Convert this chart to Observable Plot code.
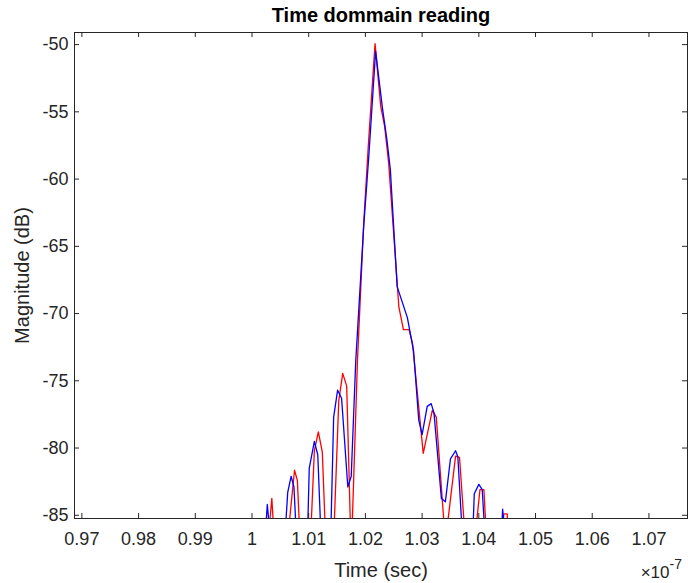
<!DOCTYPE html>
<html>
<head>
<meta charset="utf-8">
<script src="https://cdn.jsdelivr.net/npm/d3@7"></script>
<script src="https://cdn.jsdelivr.net/npm/@observablehq/plot@0.6"></script>
<style>
  html, body { margin: 0; padding: 0; background: #fff; }
  svg { display: block; }
</style>
</head>
<body>
<div id="chart"></div>
<script>
// Time values are in units of 1e-7 s (axis shows ×10^-7)
const titleText = "Time dommain reading";
const xLabel = "Time (sec)";
const yLabel = "Magnitude (dB)";

const blueTime = [1.0015, 1.0021, 1.0027, 1.0033, 1.0056, 1.0063, 1.0069, 1.0074, 1.0080, 1.0097,
  1.0101, 1.0110, 1.0116, 1.0123, 1.0138, 1.0144, 1.0151, 1.0158, 1.0169, 1.0175,
  1.0183, 1.0197, 1.0206, 1.0218, 1.0230, 1.0238, 1.0244, 1.0256, 1.0274, 1.0285,
  1.0294, 1.0300, 1.0309, 1.0316, 1.0321, 1.0334, 1.0341, 1.0350, 1.0359, 1.0363,
  1.0373, 1.0388, 1.0392, 1.0400, 1.0406, 1.0413, 1.0438, 1.0442, 1.0447, 1.0456];
const blueMag = [-92, -88, -84.2, -87, -88, -83.3, -82.1, -82.9, -88, -88,
  -81.5, -79.5, -80.5, -88, -88, -77.7, -75.7, -76.3, -82.9, -82.1,
  -73.5, -63.5, -58.3, -50.5, -54.7, -57.1, -59.3, -68.0, -70.3, -72.8,
  -77.9, -79.0, -76.9, -76.7, -77.4, -83.75, -84.0, -80.8, -80.2, -80.65,
  -88, -88, -83.4, -82.7, -83.1, -88, -88, -84.55, -87, -92];

const redTime = [1.0019, 1.0026, 1.0035, 1.0041, 1.0060, 1.0075, 1.0080, 1.0086, 1.0102, 1.0110,
  1.0117, 1.0124, 1.0131, 1.0143, 1.0153, 1.0160, 1.0167, 1.0175, 1.0186, 1.0197,
  1.0205, 1.0217, 1.0227, 1.0234, 1.0241, 1.0259, 1.0267, 1.0277, 1.0283, 1.0302,
  1.0318, 1.0325, 1.0341, 1.0359, 1.0366, 1.0378, 1.0390, 1.0402, 1.0409, 1.0415,
  1.0440, 1.0444, 1.0450, 1.0456];
const redMag = [-92, -88, -83.75, -88, -88, -81.65, -82.4, -88, -88, -80.2,
  -78.8, -80.3, -88, -88, -76.5, -74.45, -75.4, -88, -73.5, -63.3,
  -57.6, -49.93, -54.6, -56.1, -58.8, -69.5, -71.2, -71.2, -72.2, -80.4,
  -77.2, -77.7, -87, -80.6, -80.7, -88, -88, -83.1, -83.1, -88,
  -88, -84.9, -84.9, -90];

const xTicks = [0.97, 0.98, 0.99, 1.00, 1.01, 1.02, 1.03, 1.04, 1.05, 1.06, 1.07];
const yTicks = [-85, -80, -75, -70, -65, -60, -55, -50];

const red = redTime.map((t, i) => ({t, m: redMag[i]}));
const blue = blueTime.map((t, i) => ({t, m: blueMag[i]}));

const W = 688, H = 583, mL = 74, mR = 1, mT = 32, mB = 65;
const pw = W - mL - mR, ph = H - mT - mB;
const axisColor = "#262626";
const fmtX = d => String(+d.toFixed(2));
const fmtY = d => String(d);

const chart = Plot.plot({
  width: W, height: H,
  marginLeft: mL, marginRight: mR, marginTop: mT, marginBottom: mB,
  style: {fontFamily: "'Liberation Sans', Arial, Helvetica, sans-serif", fontSize: "18px", color: axisColor, background: "#fff"},
  x: {domain: [0.9687, 1.0768], label: null},
  y: {domain: [-85.24, -49.1], label: null},
  marks: [
    Plot.line(red, {x: "t", y: "m", stroke: "#ff0000", strokeWidth: 1.3, clip: true}),
    Plot.line(blue, {x: "t", y: "m", stroke: "#0000ff", strokeWidth: 1.3, clip: true}),
    Plot.frame({stroke: axisColor, strokeWidth: 1}),
    // inward ticks on all four sides
    Plot.ruleX(xTicks, {x: d => d, insetTop: ph - 5, stroke: axisColor}),
    Plot.ruleX(xTicks, {x: d => d, insetBottom: ph - 5, stroke: axisColor}),
    Plot.ruleY(yTicks, {y: d => d, insetRight: pw - 5, stroke: axisColor}),
    Plot.ruleY(yTicks, {y: d => d, insetLeft: pw - 5, stroke: axisColor}),
    Plot.axisX(xTicks, {tickSize: 0, tickPadding: 14, tickFormat: fmtX, fill: axisColor, fontSize: 18, label: null}),
    Plot.axisY(yTicks, {tickSize: 0, tickPadding: 6, tickFormat: fmtY, fill: axisColor, fontSize: 18, label: null}),
    Plot.text([titleText], {frameAnchor: "top", lineAnchor: "middle", textAnchor: "middle", dy: -17, fontWeight: "bold", fontSize: 20, fill: "#000"}),
    Plot.text([xLabel], {frameAnchor: "bottom", lineAnchor: "middle", textAnchor: "middle", dy: 52, fontSize: 20, fill: axisColor}),
    Plot.text([yLabel], {frameAnchor: "left", lineAnchor: "middle", textAnchor: "middle", dx: -52, rotate: -90, fontSize: 20, fill: axisColor}),
    Plot.text(["×10"], {frameAnchor: "bottom-right", lineAnchor: "middle", dx: -18, dy: 54, textAnchor: "end", fontSize: 17, fill: axisColor}),
    Plot.text(["-7"], {frameAnchor: "bottom-right", lineAnchor: "middle", dx: -18, dy: 46, textAnchor: "start", fontSize: 14, fill: axisColor})
  ]
});
document.getElementById("chart").appendChild(chart);
</script>
</body>
</html>
